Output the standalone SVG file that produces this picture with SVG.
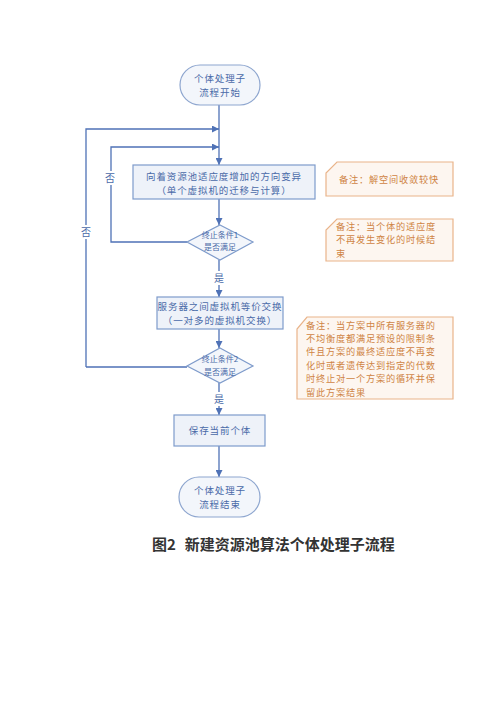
<svg xmlns="http://www.w3.org/2000/svg" width="500" height="707" viewBox="0 0 500 707">
<style>
.box{fill:#eef2f9;stroke:#7e9bcb;stroke-width:1.2}
.term{fill:#f3f6fb;stroke:#8ea6cf;stroke-width:1.2}
.dia{fill:#f3f6fb;stroke:#7e9bcb;stroke-width:1.2}
.note{fill:#fdf6f0;stroke:#e9b48a;stroke-width:1.2}
.t{font-family:"Noto Sans CJK SC","Liberation Sans",sans-serif;font-size:9.5px;letter-spacing:0.9px;fill:#4a6aa8;text-anchor:middle}
.ts{font-family:"Noto Sans CJK SC","Liberation Sans",sans-serif;font-size:8px;fill:#4a6aa8;text-anchor:middle}
.nt{font-family:"Noto Sans CJK SC","Liberation Sans",sans-serif;font-size:9.2px;letter-spacing:0.8px;fill:#cf8444}
.ln{fill:none;stroke:#4f72b6;stroke-width:1.3}
.lbl{font-family:"Noto Sans CJK SC","Liberation Sans",sans-serif;font-size:10px;fill:#4a6aa8;text-anchor:middle}
.cap{font-family:"Noto Sans CJK SC","Liberation Sans",sans-serif;font-size:15px;font-weight:bold;fill:#333}
</style>
<defs>
<marker id="ar" viewBox="0 0 10 10" refX="10" refY="5" markerWidth="7" markerHeight="7" orient="auto" markerUnits="userSpaceOnUse">
<path d="M0,0 L10,5 L0,10 Z" fill="#4f72b6"/>
</marker>
</defs>
<rect width="500" height="707" fill="#fff"/>
<g id="connectors">
<path class="ln" d="M219,105 V165" marker-end="url(#ar)"/>
<path class="ln" d="M86,367 H187 M86,367 V129 H219" marker-end="url(#ar)"/>
<path class="ln" d="M187,242 H111 V147 H219" marker-end="url(#ar)"/>
<path class="ln" d="M219,199 V225" marker-end="url(#ar)"/>
<path class="ln" d="M219,260 V271 M219,285 V297" marker-end="url(#ar)"/>
<path class="ln" d="M219,329 V348" marker-end="url(#ar)"/>
<path class="ln" d="M219,383 V392 M219,406 V415" marker-end="url(#ar)"/>
<path class="ln" d="M219,446 V477" marker-end="url(#ar)"/>
<rect x="104" y="171" width="14" height="14" fill="#fff"/>
<text class="lbl" x="110" y="182">否</text>
<rect x="79" y="225" width="14" height="14" fill="#fff"/>
<text class="lbl" x="86" y="236">否</text>
<text class="lbl" x="219" y="282">是</text>
<text class="lbl" x="219" y="403">是</text>
</g>
<g id="start">
<rect class="term" x="180" y="65" width="80" height="40" rx="20"/>
<text class="t" x="220" y="82">个体处理子</text>
<text class="t" x="220" y="96">流程开始</text>
</g>
<g id="mutate">
<rect class="box" x="133" y="165" width="182" height="34"/>
<text class="t" x="224" y="180">向着资源池适应度增加的方向变异</text>
<text class="t" x="224" y="194">（单个虚拟机的迁移与计算）</text>
</g>
<g id="cond1">
<polygon class="dia" points="220,225 253,242 220,260 187,242"/>
<text class="ts" x="220" y="238">终止条件1</text>
<text class="ts" x="220" y="250">是否满足</text>
</g>
<g id="swap">
<rect class="box" x="157" y="297" width="126" height="32"/>
<text class="t" x="220" y="310">服务器之间虚拟机等价交换</text>
<text class="t" x="220" y="324">（一对多的虚拟机交换）</text>
</g>
<g id="cond2">
<polygon class="dia" points="220,348 253,366 220,383 187,366"/>
<text class="ts" x="220" y="362">终止条件2</text>
<text class="ts" x="220" y="375">是否满足</text>
</g>
<g id="save">
<rect class="box" x="174" y="415" width="91" height="31"/>
<text class="t" x="220" y="434">保存当前个体</text>
</g>
<g id="end">
<rect class="term" x="179" y="477" width="81" height="40" rx="20"/>
<text class="t" x="220" y="494">个体处理子</text>
<text class="t" x="220" y="508">流程结束</text>
</g>
<g id="note1">
<path class="note" d="M337,162 H453 V196 H326 V173 Z"/>
<text class="nt" x="389" y="183" text-anchor="middle">备注：解空间收敛较快</text>
</g>
<g id="note2">
<path class="note" d="M337,219 H453 V261 H326 V230 Z"/>
<text class="nt" x="336" y="230">备注：当个体的适应度</text>
<text class="nt" x="336" y="243.4">不再发生变化的时候结</text>
<text class="nt" x="336" y="256.8">束</text>
</g>
<g id="note3">
<path class="note" d="M307,317 H453 V399 H297 V329 Z"/>
<text class="nt" x="306" y="328.5">备注：当方案中所有服务器的</text>
<text class="nt" x="306" y="341.9">不均衡度都满足预设的限制条</text>
<text class="nt" x="306" y="355.3">件且方案的最终适应度不再变</text>
<text class="nt" x="306" y="368.7">化时或者遗传达到指定的代数</text>
<text class="nt" x="306" y="382.1">时终止对一个方案的循环并保</text>
<text class="nt" x="306" y="395.5">留此方案结果</text>
</g>
<text class="cap" x="152" y="550">图2<tspan dx="9">新建资源池算法个体处理子流程</tspan></text>
</svg>
